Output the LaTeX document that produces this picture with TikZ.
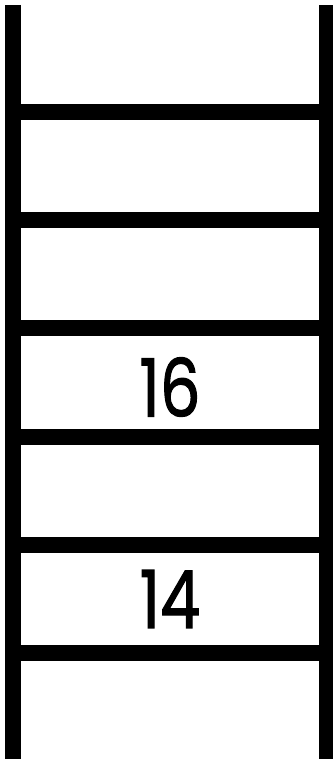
\documentclass[tikz,border=0pt]{standalone}
\usepackage{fontspec}
\newfontfamily\numfont[FakeBold=1.5]{Poppins}
\begin{document}
\begin{tikzpicture}[x=1pt,y=-1pt,
  rail/.style={line width=16pt,draw=black},
  rung/.style={line width=16pt,draw=black},
  num/.style={inner sep=0pt,font=\numfont\fontsize{80}{80}\selectfont}]
\useasboundingbox (0,0) rectangle (332,759);
\coordinate (lt) at (13,5);
\coordinate (lb) at (13,759);
\coordinate (rt) at (327,5);
\coordinate (rb) at (327,759);
\draw[rail] (lt) -- (lb);
\draw[rail] (rt) -- (rb);
\foreach \i/\y in {1/112,2/220.2,3/328.4,4/436.6,5/544.8,6/653}{
  \coordinate (l\i) at (13,\y);
  \coordinate (r\i) at (327,\y);
  \draw[rung] (l\i) -- (r\i);
}
\node[num] (n16) at (170,387) {\scalebox{0.8}[1]{16}};
\node[num] (n14) at (170,599) {\scalebox{0.8}[1]{14}};
\end{tikzpicture}
\end{document}
